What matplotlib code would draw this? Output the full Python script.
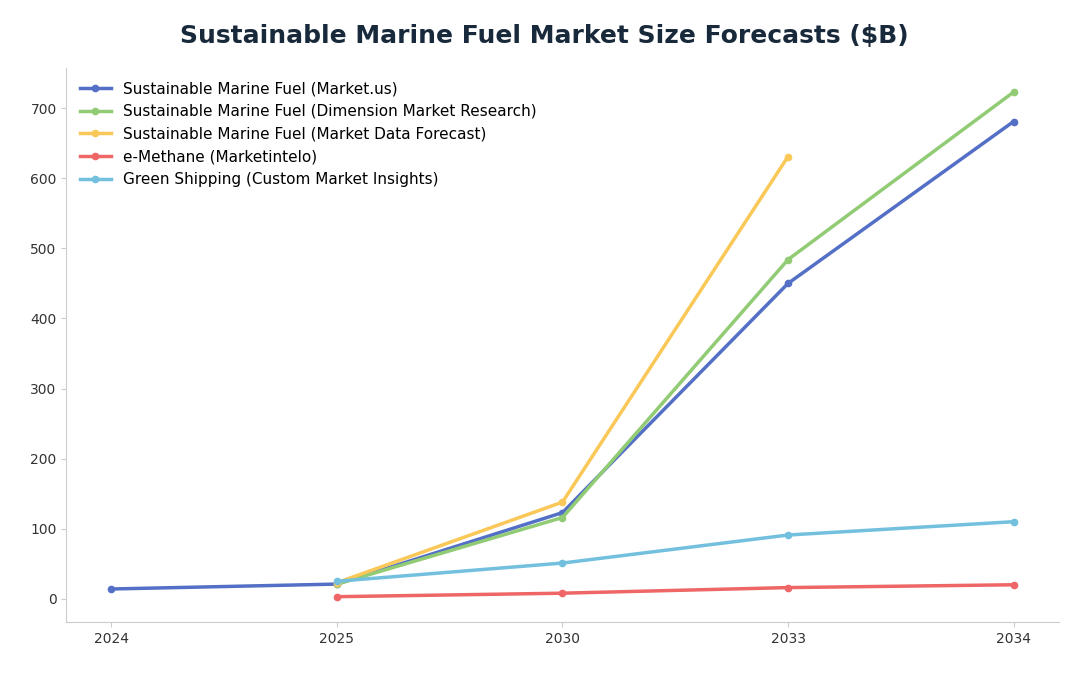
import matplotlib
matplotlib.use("Agg")
import matplotlib.pyplot as plt

years = ["2024", "2025", "2030", "2033", "2034"]
market_us = [14, 21, 123, 450, 681]
dmr = [None, 21, 116, 484, 723]
mdf = [None, 23, 138, 631, None]
emethane = [None, 3, 8, 16, 20]
green = [None, 25, 51, 91, 110]

series = [
    ("Sustainable Marine Fuel (Market.us)", market_us, "#5470c6"),
    ("Sustainable Marine Fuel (Dimension Market Research)", dmr, "#91cc75"),
    ("Sustainable Marine Fuel (Market Data Forecast)", mdf, "#fac858"),
    ("e-Methane (Marketintelo)", emethane, "#ee6666"),
    ("Green Shipping (Custom Market Insights)", green, "#73c0de"),
]

fig = plt.figure(figsize=(10.88, 6.76), dpi=100)
ax = fig.add_axes([0.061, 0.08, 0.912, 0.82])
for name, vals, c in series:
    xs = [i for i, v in enumerate(vals) if v is not None]
    ys = [v for v in vals if v is not None]
    ax.plot(xs, ys, color=c, lw=2.5, marker="o", ms=4.5, label=name)

ax.set_xticks(range(len(years)))
ax.set_xticklabels(years)
ax.set_xlim(-0.2, 4.2)
ax.set_ylim(-33, 758)
ax.set_yticks(range(0, 701, 100))
for s in ["top", "right"]:
    ax.spines[s].set_visible(False)
for s in ["left", "bottom"]:
    ax.spines[s].set_color("#cccccc")
ax.tick_params(colors="#333333", labelsize=10)
ax.tick_params(axis="both", color="#cccccc")
ax.legend(loc="upper left", frameon=False, fontsize=11, handlelength=2)
fig.suptitle("Sustainable Marine Fuel Market Size Forecasts ($B)", fontsize=18,
             fontweight="bold", color="#17293a", y=0.965)
fig.savefig("out.png", dpi=100)
